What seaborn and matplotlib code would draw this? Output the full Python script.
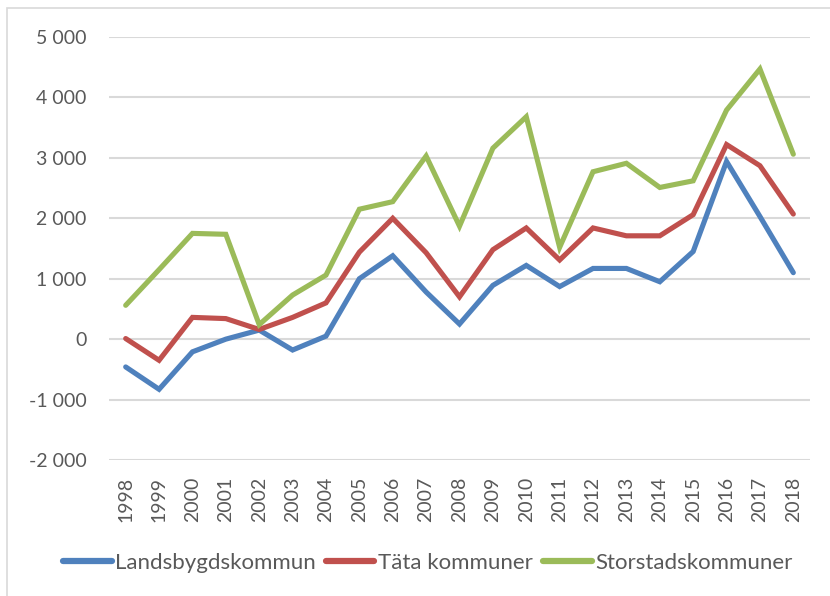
import matplotlib
matplotlib.use("Agg")
import matplotlib.pyplot as plt
import seaborn as sns
import pandas as pd
from matplotlib.patches import Rectangle
from matplotlib.ticker import FuncFormatter

years = list(range(1998, 2019))
landsbygd = [-460, -830, -210, 0, 150, -180, 50, 1000, 1380, 780, 250, 890, 1220, 870, 1170, 1170, 950, 1450, 2940, 2030, 1100]
tata = [10, -350, 360, 340, 160, 360, 600, 1440, 2000, 1430, 700, 1480, 1840, 1310, 1840, 1710, 1710, 2060, 3220, 2870, 2070]
storstad = [560, 1150, 1750, 1735, 240, 730, 1060, 2150, 2275, 3030, 1870, 3160, 3680, 1520, 2770, 2910, 2510, 2620, 3790, 4470, 3060]
series_names = ["Landsbygdskommun", "Täta kommuner", "Storstadskommuner"]
colors = ["#4F81BD", "#C0504D", "#9BBB59"]

df = pd.concat([
    pd.DataFrame({"År": years, "Värde": vals, "Serie": name})
    for name, vals in zip(series_names, [landsbygd, tata, storstad])
])

sns.set_theme(style="white")
plt.rcParams["font.family"] = ["Lato", "DejaVu Sans"]

fig = plt.figure(figsize=(8.3, 5.96), dpi=100)
ax = fig.add_axes([109/830, 1-460/596, (810-109)/830, (460-37)/596])

sns.lineplot(data=df, x="År", y="Värde", hue="Serie", hue_order=series_names,
             palette=colors, linewidth=3.7, ax=ax, legend=True,
             solid_capstyle="round", solid_joinstyle="miter")

ax.set_xlim(1997.5, 2018.5)
ax.set_ylim(-2000, 5000)
ax.set_yticks(range(-2000, 5001, 1000))
ax.yaxis.set_major_formatter(FuncFormatter(lambda v, p: f"{int(v):,}".replace(",", " ")))
ax.set_xticks(years)
ax.set_xticklabels([str(y) for y in years], rotation=90)
ax.set_xlabel("")
ax.set_ylabel("")
ax.grid(axis="y", color="#D9D9D9", linewidth=1.5)
ax.set_axisbelow(True)
for s in ax.spines.values():
    s.set_visible(False)
ax.tick_params(axis="both", length=0, labelsize=14, colors="#595959")
ax.tick_params(axis="y", pad=16)
ax.tick_params(axis="x", pad=12)

leg = ax.legend(loc="center", bbox_to_anchor=(0.515, 1-563/596), bbox_transform=fig.transFigure,
                ncol=3, frameon=False, fontsize=16, handlelength=2.2,
                columnspacing=0.45, handletextpad=0.15, borderaxespad=0)
for t in leg.get_texts():
    t.set_color("#595959")
for h in leg.get_lines():
    h.set_linewidth(4.5)
    h.set_solid_capstyle("round")

fig.add_artist(Rectangle((7/830, -0.1), 2, 1.1 - 8/596, transform=fig.transFigure,
                         fill=False, edgecolor="#D9D9D9", linewidth=1.2))

fig.savefig("out.png", dpi=100)
